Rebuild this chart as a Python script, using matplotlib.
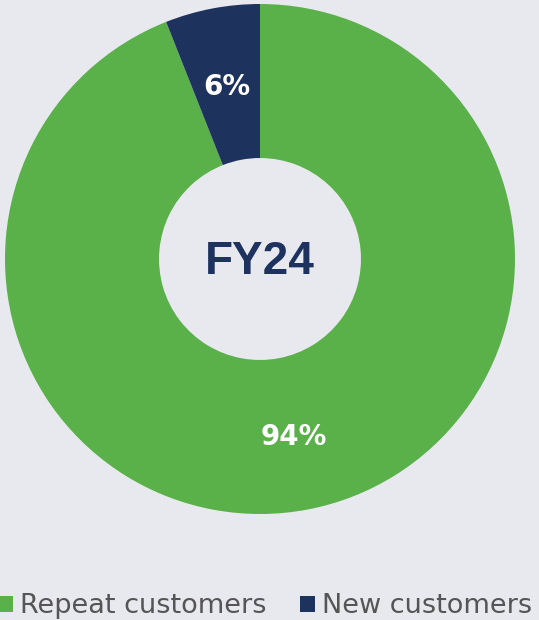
import matplotlib.pyplot as plt
from matplotlib.patches import Patch

# Données
categories = ['Repeat customers', 'New customers']
shares = [94, 6]
centre_label = 'FY24'

colors = ['#5ab049', '#1e325e']
bg = '#e8e9ef'

fig = plt.figure(figsize=(5.39, 6.20), dpi=100, facecolor=bg)
ax = fig.add_axes([5/539, 106/620, 510/539, 510/620])
ax.set_facecolor(bg)

wedges, texts, autotexts = ax.pie(
    shares, colors=colors, startangle=90, counterclock=False,
    radius=1.0, wedgeprops=dict(width=0.604, edgecolor='none'),
    autopct='%d%%', pctdistance=0.70,
    textprops=dict(color='white', fontsize=20, fontweight='bold', family='DejaVu Sans'))
for t in autotexts:
    x, y = t.get_position()
    t.set_position((x, y - 0.012))
ax.set_xlim(-1, 1)
ax.set_ylim(-1, 1)
ax.set_aspect('equal')
ax.axis('off')

ax.text(0, -0.012, centre_label, ha='center', va='center', fontsize=33,
        fontweight='bold', color='#1e325e', family='Liberation Sans')

handles = [Patch(facecolor=c, edgecolor='none') for c in colors]
leg = fig.legend(handles, categories, loc='center', bbox_to_anchor=(0.492, 0.022),
                 ncol=2, frameon=False, handlelength=0.55, handleheight=0.55,
                 handletextpad=0.26, columnspacing=1.22,
                 prop=dict(family='DejaVu Sans', size=19.5))
for t in leg.get_texts():
    t.set_color('#555555')

fig.savefig('out.png', dpi=100, facecolor=bg)
